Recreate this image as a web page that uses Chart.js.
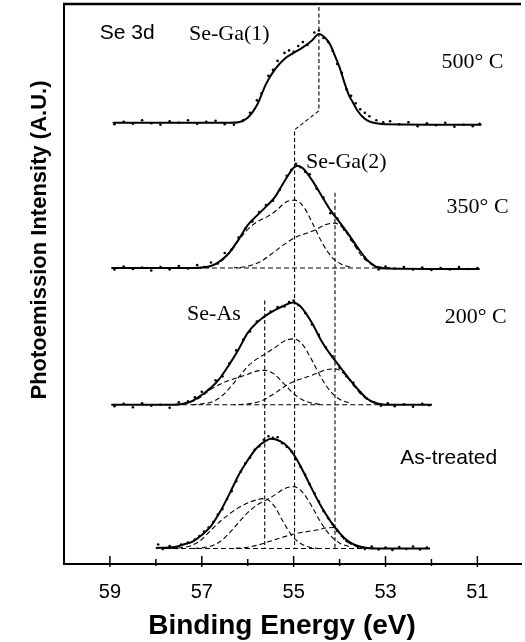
<!DOCTYPE html>
<html>
<head>
<meta charset="utf-8">
<script src="https://cdn.jsdelivr.net/npm/chart.js@4.4.1/dist/chart.umd.min.js"></script>
<style>
  html, body { margin: 0; padding: 0; background: #fff; }
</style>
</head>
<body>
<canvas id="xps" width="525" height="642"></canvas>
<script>
// tick values on the binding energy axis
const majorTicks = [51, 53, 55, 57, 59];
const minorTicks = [52, 54, 56, 58];

// 500 C
const fit500X = [58.94, 56.4, 56.2, 56.0, 55.8, 55.6, 55.4, 55.2, 55.0, 54.8, 54.6, 54.45, 54.3, 54.2, 54.1, 54.0, 53.9, 53.8, 53.7, 53.6, 53.5, 53.4, 53.3, 53.2, 53.0, 50.91];
const fit500Y = [88.4, 88.4, 88.5, 89.4, 91.9, 96.2, 99.2, 101.2, 102.4, 103.5, 104.9, 106.2, 105.3, 104.0, 101.8, 99.5, 96.6, 94.0, 92.3, 90.7, 89.6, 88.9, 88.5, 88.3, 88.1, 88.0];
const dots500X = [58.9, 58.7, 58.5, 58.3, 58.1, 57.9, 57.7, 57.5, 57.3, 57.1, 56.9, 56.7, 56.5, 56.3, 56.1, 55.95, 55.8, 55.7, 55.55, 55.45, 55.35, 55.2, 55.1, 55.0, 54.9, 54.8, 54.7, 54.55, 54.45, 54.35, 54.25, 54.15, 54.05, 53.95, 53.85, 53.75, 53.65, 53.55, 53.45, 53.35, 53.2, 53.05, 52.9, 52.7, 52.5, 52.3, 52.1, 51.9, 51.7, 51.5, 51.3, 51.1, 50.95];
const dots500Y = [88.1, 88.6, 88.2, 88.9, 88.3, 88.0, 88.7, 88.4, 88.9, 88.2, 88.6, 88.8, 88.1, 88.0, 88.9, 90.4, 92.9, 94.3, 97.8, 99.0, 100.8, 102.4, 102.9, 102.6, 103.8, 104.6, 104.0, 106.5, 106.9, 105.4, 104.6, 102.8, 100.2, 98.4, 95.1, 93.8, 92.3, 91.1, 90.4, 89.7, 88.9, 88.5, 88.7, 88.1, 88.5, 87.7, 88.3, 87.9, 88.4, 87.6, 88.0, 87.7, 88.2];

// 350 C
const fit350X = [58.97, 57.2, 57.0, 56.8, 56.6, 56.4, 56.2, 56.0, 55.8, 55.6, 55.4, 55.2, 55.0, 54.92, 54.8, 54.6, 54.4, 54.2, 54.0, 53.8, 53.6, 53.4, 53.2, 53.0, 50.95];
const fit350Y = [59.3, 59.3, 59.4, 59.7, 60.7, 62.4, 65.0, 67.9, 69.8, 71.6, 73.6, 76.7, 79.4, 79.8, 79.3, 76.9, 73.9, 70.9, 68.5, 66.0, 63.3, 60.9, 59.5, 59.2, 59.1];
const gaB350X = [53.77, 53.97, 54.17, 54.37, 54.57, 54.77, 54.97, 55.17, 55.37, 55.57, 55.77, 55.97, 56.17, 56.37, 56.57, 56.77, 56.97, 57.17];
const gaB350Y = [59.5, 60.1, 61.5, 64.2, 67.9, 71.4, 72.9, 72.5, 70.9, 69.6, 68.7, 67.3, 65.2, 62.6, 60.7, 59.8, 59.4, 59.3];
const low350X = [52.9, 53.1, 53.3, 53.5, 53.7, 53.9, 54.1, 54.3, 54.5, 54.7, 54.9, 55.1, 55.3, 55.5, 55.7, 55.9, 56.1, 56.3];
const low350Y = [59.3, 59.5, 60.1, 61.5, 64.2, 67.0, 68.3, 68.0, 67.1, 66.3, 65.7, 64.7, 63.4, 62.0, 60.7, 59.9, 59.5, 59.35];
const dots350X = [58.9, 58.7, 58.5, 58.3, 58.1, 57.9, 57.7, 57.5, 57.3, 57.1, 56.95, 56.8, 56.65, 56.5, 56.35, 56.2, 56.05, 55.9, 55.75, 55.6, 55.45, 55.3, 55.15, 55.05, 54.95, 54.85, 54.75, 54.65, 54.5, 54.35, 54.2, 54.05, 53.9, 53.75, 53.6, 53.45, 53.3, 53.15, 53.0, 52.8, 52.6, 52.4, 52.2, 52.0, 51.8, 51.6, 51.4, 51.2, 51.0];
const dots350Y = [59.0, 59.6, 59.1, 59.4, 58.8, 59.5, 59.0, 59.7, 59.2, 59.9, 59.5, 60.4, 60.2, 62.3, 63.0, 65.4, 67.2, 68.6, 70.5, 71.9, 72.8, 75.0, 77.8, 79.0, 80.2, 79.5, 78.6, 78.1, 75.2, 73.4, 70.3, 69.2, 67.0, 65.0, 63.2, 61.4, 60.1, 59.0, 59.6, 59.2, 59.5, 59.0, 59.4, 58.9, 59.3, 59.0, 59.5, 59.1, 59.3];

// 200 C
const fit200X = [58.97, 57.6, 57.4, 57.2, 57.0, 56.8, 56.6, 56.4, 56.2, 56.0, 55.8, 55.6, 55.4, 55.2, 55.02, 54.85, 54.6, 54.4, 54.2, 54.0, 53.8, 53.6, 53.4, 53.2, 53.0, 51.99];
const fit200Y = [31.9, 31.9, 32.1, 32.7, 33.9, 35.3, 37.3, 40.0, 43.0, 46.3, 48.4, 49.8, 50.9, 51.8, 52.4, 51.6, 48.3, 44.8, 42.0, 39.6, 37.2, 35.0, 33.1, 32.2, 31.9, 31.9];
const seAs200X = [54.43, 54.63, 54.83, 55.03, 55.23, 55.43, 55.63, 55.83, 56.03, 56.23, 56.43, 56.63, 56.83, 57.03, 57.23, 57.43, 57.63, 57.83];
const seAs200Y = [32.0, 32.3, 33.0, 34.4, 36.3, 38.1, 38.8, 38.6, 37.9, 37.3, 36.7, 35.9, 34.8, 33.4, 32.5, 32.1, 31.95, 31.9];
const gaB200X = [53.8, 54.0, 54.2, 54.4, 54.6, 54.8, 55.0, 55.2, 55.4, 55.6, 55.8, 56.0, 56.2, 56.4, 56.6, 56.8, 57.0, 57.2];
const gaB200Y = [32.3, 33.0, 34.6, 37.3, 40.8, 43.9, 45.1, 44.7, 43.4, 42.2, 41.1, 39.6, 37.4, 35.2, 33.4, 32.4, 32.1, 31.9];
const low200X = [52.9, 53.1, 53.3, 53.5, 53.7, 53.9, 54.1, 54.3, 54.5, 54.7, 54.9, 55.1, 55.3, 55.5, 55.7, 55.9, 56.1, 56.3];
const low200Y = [31.9, 32.05, 32.5, 33.7, 35.8, 38.1, 39.1, 38.9, 38.2, 37.5, 36.9, 36.1, 34.9, 33.7, 32.7, 32.2, 32.0, 31.9];
const dots200X = [58.9, 58.7, 58.5, 58.3, 58.1, 57.9, 57.7, 57.5, 57.3, 57.15, 57.0, 56.85, 56.7, 56.55, 56.4, 56.25, 56.1, 55.95, 55.8, 55.65, 55.5, 55.35, 55.2, 55.1, 55.0, 54.9, 54.75, 54.6, 54.45, 54.3, 54.15, 54.0, 53.85, 53.7, 53.55, 53.4, 53.25, 53.1, 52.95, 52.8, 52.6, 52.4, 52.2, 52.05];
const dots200Y = [31.6, 32.1, 31.4, 32.2, 31.7, 31.9, 31.3, 32.4, 32.6, 33.4, 34.5, 34.9, 36.8, 37.6, 40.2, 42.8, 44.9, 46.6, 48.6, 49.5, 50.6, 51.5, 51.6, 52.5, 52.8, 51.9, 50.3, 48.0, 45.9, 43.4, 41.6, 39.3, 37.6, 36.3, 34.4, 33.1, 32.4, 31.7, 32.2, 31.6, 32.0, 31.5, 32.1, 31.8];

// As-treated
const fitAsX = [58.0, 57.6, 57.4, 57.2, 57.0, 56.8, 56.6, 56.4, 56.2, 56.0, 55.8, 55.6, 55.5, 55.4, 55.2, 55.0, 54.8, 54.6, 54.4, 54.2, 54.0, 53.8, 53.6, 53.4, 53.2, 52.03];
const fitAsY = [3.2, 3.4, 3.9, 4.5, 5.8, 7.6, 10.5, 14.0, 17.8, 20.8, 23.3, 24.7, 25.1, 25.0, 24.1, 22.0, 18.7, 15.0, 11.5, 8.6, 6.2, 4.5, 3.6, 3.2, 3.1, 3.1];
const seAsAsX = [54.43, 54.63, 54.83, 55.03, 55.23, 55.43, 55.63, 55.83, 56.03, 56.23, 56.43, 56.63, 56.83, 57.03, 57.23, 57.43, 57.63, 57.83];
const seAsAsY = [3.1, 3.3, 4.0, 5.6, 8.5, 11.7, 13.1, 12.8, 12.1, 11.1, 9.8, 8.3, 6.5, 4.7, 3.7, 3.3, 3.15, 3.1];
const gaBAsX = [53.8, 54.0, 54.2, 54.4, 54.6, 54.8, 55.0, 55.2, 55.4, 55.6, 55.8, 56.0, 56.2, 56.4, 56.6, 56.8, 57.0, 57.2];
const gaBAsY = [3.5, 4.2, 5.7, 8.2, 11.5, 14.3, 15.5, 15.1, 13.9, 12.8, 11.8, 10.3, 8.3, 6.2, 4.5, 3.6, 3.25, 3.1];
const lowAsX = [52.9, 53.1, 53.3, 53.5, 53.7, 53.9, 54.1, 54.3, 54.5, 54.7, 54.9, 55.1, 55.3, 55.5, 55.7, 55.9, 56.1, 56.3];
const lowAsY = [3.1, 3.1, 3.1, 3.2, 3.8, 4.9, 7.3, 7.2, 6.8, 6.5, 6.2, 5.75, 5.2, 4.6, 4.0, 3.55, 3.25, 3.15];
const dotsAsX = [57.95, 57.85, 57.7, 57.55, 57.45, 57.3, 57.15, 57.05, 56.95, 56.85, 56.75, 56.65, 56.55, 56.45, 56.35, 56.25, 56.15, 56.05, 55.95, 55.85, 55.75, 55.65, 55.55, 55.45, 55.35, 55.25, 55.15, 55.05, 54.95, 54.85, 54.75, 54.65, 54.55, 54.45, 54.35, 54.25, 54.15, 54.05, 53.95, 53.85, 53.75, 53.6, 53.45, 53.3, 53.15, 53.0, 52.85, 52.7, 52.55, 52.4, 52.25, 52.1];
const dotsAsY = [3.9, 3.0, 3.6, 3.2, 3.9, 4.3, 4.9, 5.6, 6.5, 7.3, 8.4, 9.9, 11.0, 13.0, 14.6, 16.6, 18.5, 20.2, 21.3, 22.9, 23.6, 24.9, 25.6, 25.3, 25.4, 24.2, 23.5, 22.6, 21.0, 19.5, 17.9, 16.0, 14.2, 12.5, 10.6, 9.2, 7.9, 6.6, 5.6, 4.6, 4.1, 3.4, 3.0, 3.5, 2.9, 3.3, 2.8, 3.4, 3.0, 3.5, 2.9, 3.3];

// dashed backgrounds under the fitted peaks
const bg350X = [57.3, 52.9], bg350Y = [59.3, 59.3];
const bg200X = [57.6, 52.9], bg200Y = [31.9, 31.9];
const bgAsX = [57.8, 53.3], bgAsY = [3.1, 3.1];

// peak position markers
const markGaX = [54.45, 54.45, 54.98, 54.98], markGaY = [111.6, 90.8, 87.0, 3.1];
const markLowX = [54.1, 54.1], markLowY = [74.4, 3.1];
const markAsX = [55.63, 55.63], markAsY = [52.8, 3.1];

const sans = '"Liberation Sans", Arial, Helvetica, sans-serif';
const serif = '"Liberation Serif", "Times New Roman", Times, serif';

function pts(xs, ys) {
    return xs.map((x, i) => ({ x: x, y: ys[i] }));
}

function fitLine(xs, ys) {
    return { data: pts(xs, ys), borderColor: '#000', borderWidth: 2, pointRadius: 0, cubicInterpolationMode: 'monotone', fill: false };
}
function compLine(xs, ys) {
    return { data: pts(xs, ys), borderColor: '#000', borderWidth: 1.1, borderDash: [5, 3], pointRadius: 0, cubicInterpolationMode: 'monotone', fill: false };
}
function markLine(xs, ys) {
    return { data: pts(xs, ys), borderColor: '#000', borderWidth: 1.1, borderDash: [4, 2.5], pointRadius: 0, tension: 0, fill: false };
}
function dotSet(xs, ys) {
    return { data: pts(xs, ys), showLine: false, pointRadius: 1.3, pointBackgroundColor: '#000', pointBorderWidth: 0 };
}

// frame, tick marks, titles and peak labels
const decorations = {
    id: 'decorations',
    afterDatasetsDraw(chart) {
        const ctx = chart.ctx;
        const area = chart.chartArea;
        const xs = chart.scales.x, ys = chart.scales.y;
        ctx.save();
        ctx.strokeStyle = '#000';
        ctx.lineWidth = 2.5;
        ctx.beginPath();
        ctx.moveTo(area.left - 1, area.top);
        ctx.lineTo(area.right, area.top);
        ctx.stroke();

        ctx.lineWidth = 1.5;
        majorTicks.forEach(v => {
            const px = xs.getPixelForValue(v);
            ctx.beginPath(); ctx.moveTo(px, area.bottom - 8); ctx.lineTo(px, area.bottom + 3); ctx.stroke();
        });
        minorTicks.forEach(v => {
            const px = xs.getPixelForValue(v);
            ctx.beginPath(); ctx.moveTo(px, area.bottom - 5); ctx.lineTo(px, area.bottom + 2); ctx.stroke();
        });

        ctx.fillStyle = '#000';
        ctx.textAlign = 'center';
        ctx.textBaseline = 'alphabetic';
        ctx.font = 'bold 28px ' + sans;
        ctx.fillText('Binding Energy (eV)', 282, 634);

        ctx.save();
        ctx.translate(40, 240);
        ctx.rotate(-Math.PI / 2);
        ctx.textBaseline = 'middle';
        ctx.font = 'bold 22px ' + sans;
        ctx.fillText('Photoemission Intensity (A.U.)', 0, 0);
        ctx.restore();

        const labels = [
            { t: 'Se 3d', x: 59.22, y: 105.2, f: '21px ' + sans },
            { t: 'Se-Ga(1)', x: 57.28, y: 105.0, f: '22px ' + serif },
            { t: '500\u00b0 C', x: 51.78, y: 99.4, f: '22px ' + serif },
            { t: 'Se-Ga(2)', x: 54.73, y: 79.4, f: '22px ' + serif },
            { t: '350\u00b0 C', x: 51.67, y: 70.4, f: '22px ' + serif },
            { t: 'Se-As', x: 57.32, y: 48.8, f: '22px ' + serif },
            { t: '200\u00b0 C', x: 51.71, y: 48.3, f: '22px ' + serif },
            { t: 'As-treated', x: 52.68, y: 20.0, f: '21px ' + sans }
        ];
        ctx.textAlign = 'left';
        labels.forEach(l => {
            ctx.font = l.f;
            ctx.fillText(l.t, xs.getPixelForValue(l.x), ys.getPixelForValue(l.y));
        });
        ctx.restore();
    }
};

const chart = new Chart(document.getElementById('xps').getContext('2d'), {
    type: 'line',
    data: {
        datasets: [
            dotSet(dots500X, dots500Y),
            dotSet(dots350X, dots350Y),
            dotSet(dots200X, dots200Y),
            dotSet(dotsAsX, dotsAsY),
            compLine(bg350X, bg350Y),
            compLine(bg200X, bg200Y),
            compLine(bgAsX, bgAsY),
            compLine(gaB350X, gaB350Y),
            compLine(low350X, low350Y),
            compLine(seAs200X, seAs200Y),
            compLine(gaB200X, gaB200Y),
            compLine(low200X, low200Y),
            compLine(seAsAsX, seAsAsY),
            compLine(gaBAsX, gaBAsY),
            compLine(lowAsX, lowAsY),
            markLine(markGaX, markGaY),
            markLine(markLowX, markLowY),
            markLine(markAsX, markAsY),
            fitLine(fit500X, fit500Y),
            fitLine(fit350X, fit350Y),
            fitLine(fit200X, fit200Y),
            fitLine(fitAsX, fitAsY)
        ]
    },
    options: {
        responsive: false,
        animation: false,
        layout: { padding: { top: 3, right: 0, bottom: 0, left: 0 } },
        plugins: { legend: { display: false }, tooltip: { enabled: false } },
        scales: {
            x: {
                type: 'linear', reverse: true, min: 50.05, max: 60,
                afterBuildTicks: s => { s.ticks = majorTicks.map(v => ({ value: v })); },
                afterFit: s => { s.height = 78; },
                grid: { display: false },
                border: { display: true, color: '#000', width: 2 },
                ticks: { color: '#000', padding: 8, maxRotation: 0, autoSkip: false, font: { family: sans, size: 20 } }
            },
            y: {
                min: 0, max: 112.2,
                afterFit: s => { s.width = 64; },
                grid: { display: false },
                border: { display: true, color: '#000', width: 2 },
                ticks: { display: false }
            }
        }
    },
    plugins: [decorations]
});
</script>
</body>
</html>
